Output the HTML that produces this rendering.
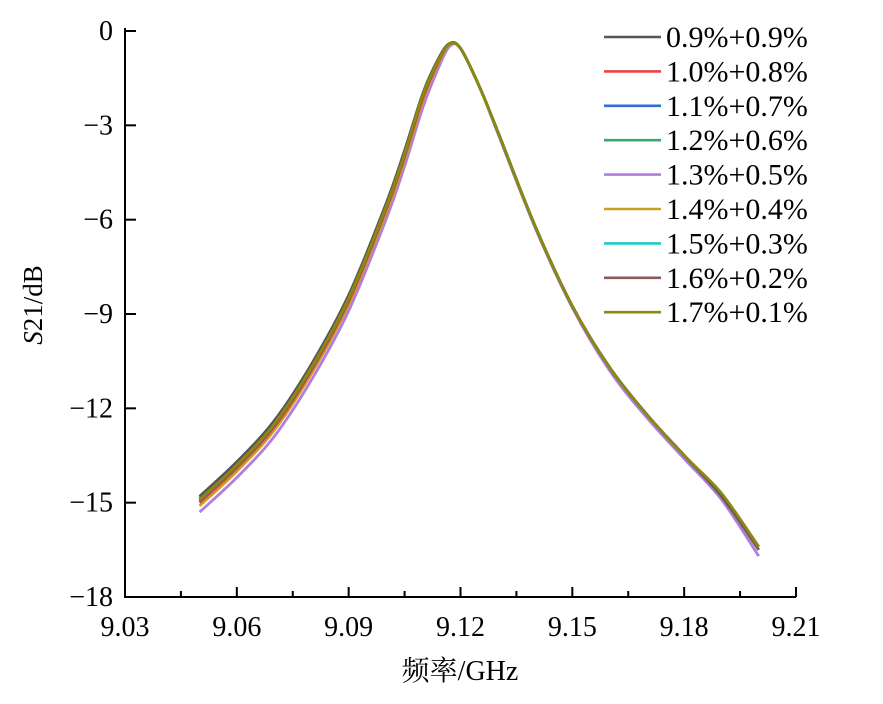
<!DOCTYPE html>
<html><head><meta charset="utf-8"><style>
body{margin:0;background:#fff;}
svg text{font-family:"Liberation Serif","Noto Serif CJK SC",serif;fill:#000;}
</style></head><body>
<svg id="chart" width="883" height="699" xmlns="http://www.w3.org/2000/svg">
<g id="axes"></g>
<g id="series"></g>
<g id="legend"></g>
<text transform="translate(42,305) rotate(-90)" text-anchor="middle" font-size="27"><tspan font-style="italic">S</tspan>21/dB</text>
<text x="460" y="680" text-anchor="middle" font-size="28">频率/GHz</text>
</svg>
<script>
const freqs = [9.05,9.06,9.07,9.08,9.09,9.10,9.105,9.11,9.114,9.117,9.12,9.125,9.13,9.14,9.15,9.16,9.17,9.18,9.19,9.20];
const labels = ["0.9%+0.9%","1.0%+0.8%","1.1%+0.7%","1.2%+0.6%","1.3%+0.5%","1.4%+0.4%","1.5%+0.3%","1.6%+0.2%","1.7%+0.1%"];
const colors = ["#555555","#e84545","#2e6fd0","#3aa86a","#b07ee0","#c9a020","#20c8c8","#8a5a5a","#8a8a10"];
const s1 = [-14.8,-13.7,-12.4,-10.6,-8.4,-5.5,-3.8,-1.95,-0.9,-0.4,-0.55,-1.75,-3.2,-6.2,-8.75,-10.7,-12.2,-13.5,-14.75,-16.4];
const s2 = [-15.0,-13.9,-12.6,-10.8,-8.6,-5.7,-4.0,-2.1,-1.0,-0.42,-0.55,-1.75,-3.2,-6.2,-8.75,-10.7,-12.2,-13.5,-14.8,-16.5];
const s3 = [-14.9,-13.8,-12.5,-10.7,-8.5,-5.6,-3.9,-2.0,-0.95,-0.42,-0.55,-1.75,-3.2,-6.2,-8.75,-10.7,-12.2,-13.5,-14.8,-16.5];
const s4 = [-14.85,-13.75,-12.45,-10.65,-8.45,-5.55,-3.85,-1.98,-0.92,-0.4,-0.55,-1.75,-3.2,-6.2,-8.75,-10.7,-12.2,-13.5,-14.75,-16.4];
const s5 = [-15.3,-14.2,-12.9,-11.1,-8.9,-6.0,-4.3,-2.4,-1.2,-0.5,-0.55,-1.75,-3.25,-6.25,-8.8,-10.8,-12.3,-13.6,-14.9,-16.7];
const s6 = [-15.1,-14.0,-12.7,-10.9,-8.7,-5.8,-4.1,-2.2,-1.05,-0.45,-0.55,-1.75,-3.2,-6.2,-8.75,-10.7,-12.2,-13.5,-14.8,-16.5];
const s7 = [-14.9,-13.8,-12.5,-10.7,-8.5,-5.6,-3.9,-2.0,-0.95,-0.42,-0.55,-1.75,-3.2,-6.2,-8.75,-10.7,-12.2,-13.5,-14.8,-16.5];
const s8 = [-14.95,-13.85,-12.55,-10.75,-8.55,-5.65,-3.95,-2.05,-0.97,-0.42,-0.55,-1.75,-3.2,-6.2,-8.75,-10.7,-12.2,-13.5,-14.8,-16.5];
const s9 = [-14.9,-13.8,-12.5,-10.7,-8.5,-5.6,-3.9,-2.0,-0.95,-0.42,-0.55,-1.75,-3.2,-6.2,-8.75,-10.7,-12.2,-13.5,-14.7,-16.4];
const xTicks = [9.03,9.06,9.09,9.12,9.15,9.18,9.21];
const xTickLabels = ["9.03","9.06","9.09","9.12","9.15","9.18","9.21"];
const yTicks = [0,-3,-6,-9,-12,-15,-18];
const yTickLabels = ["0","\u22123","\u22126","\u22129","\u221212","\u221215","\u221218"];

const X0=125,X1=796,Y0=31,Y1=597;
const xs = v => X0+(v-9.03)/(9.21-9.03)*(X1-X0);
const ys = v => Y0+(0-v)/18*(Y1-Y0);
const NS="http://www.w3.org/2000/svg";
function mk(tag,attrs,parent){const e=document.createElementNS(NS,tag);for(const k in attrs)e.setAttribute(k,attrs[k]);parent.appendChild(e);return e;}
const axes=document.getElementById('axes');
let a=mk('path',{d:`M${X0},${Y0-3}V${Y1}H${X1}`,fill:'none',stroke:'#000','stroke-width':2},axes);


xTicks.forEach((t,i)=>{
  const x=xs(t);
  const tk=mk('line',{x1:x,x2:x,y1:Y1,y2:Y1-10,stroke:'#000','stroke-width':2},axes);
  
  
  if(i<xTicks.length-1){const m=xs(t+0.015);
    const mt=mk('line',{x1:m,x2:m,y1:Y1,y2:Y1-6,stroke:'#000','stroke-width':2},axes);
    
    }
  const tl=mk('text',{x:x,y:636,'text-anchor':'middle','font-size':28},axes);
  tl.textContent=xTickLabels[i];
  
  
});
yTicks.forEach((t,i)=>{
  const y=ys(t);
  const tk=mk('line',{x1:X0,x2:X0+11,y1:y,y2:y,stroke:'#000','stroke-width':2},axes);
  
  
  const tl=mk('text',{x:113,y:y+9,'text-anchor':'end','font-size':28},axes);
  tl.textContent=yTickLabels[i];
  
  
});
function smooth(pts){
  let d=`M${pts[0][0]},${pts[0][1]}`;
  for(let i=0;i<pts.length-1;i++){
    const p0=pts[Math.max(0,i-1)],p1=pts[i],p2=pts[i+1],p3=pts[Math.min(pts.length-1,i+2)];
    const c1=[p1[0]+(p2[0]-p0[0])/6,p1[1]+(p2[1]-p0[1])/6];
    const c2=[p2[0]-(p3[0]-p1[0])/6,p2[1]-(p3[1]-p1[1])/6];
    d+=`C${c1[0]},${c1[1]} ${c2[0]},${c2[1]} ${p2[0]},${p2[1]}`;
  }
  return d;
}
const allSeries=[s1,s2,s3,s4,s5,s6,s7,s8,s9];
const order=[4,5,1,2,3,6,7,0,8];
const sg=document.getElementById('series');
order.forEach(i=>{
  const pts=freqs.map((f,j)=>[xs(f),ys(allSeries[i][j])]);
  const p=mk('path',{d:smooth(pts),fill:'none',stroke:colors[i],'stroke-width':2.8},sg);
  
  
});
const lg=document.getElementById('legend');
labels.forEach((l,i)=>{
  const y=37+i*34.4;
  const ln=mk('line',{x1:604,x2:661,y1:y,y2:y,stroke:colors[i],'stroke-width':2.6},lg);
  
  
  const tx=mk('text',{x:666,y:y+10,'font-size':30},lg);
  tx.textContent=l;
  
  
});
</script>
</body></html>
